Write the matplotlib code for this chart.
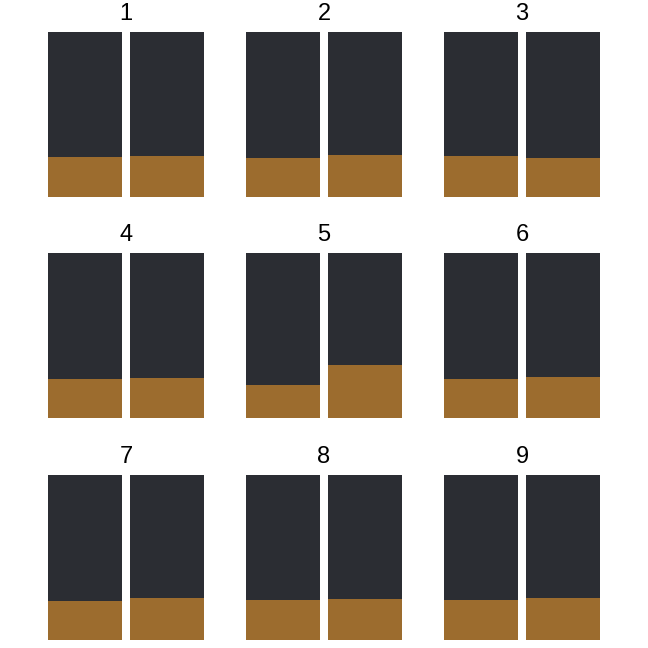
import matplotlib
matplotlib.use("Agg")
import matplotlib.pyplot as plt

plt.rcParams['font.family'] = ['Liberation Sans', 'DejaVu Sans']

panels = ["1", "2", "3", "4", "5", "6", "7", "8", "9"]
bottom_share_a = [0.242, 0.236, 0.248, 0.236, 0.200, 0.236, 0.236, 0.242, 0.242]
bottom_share_b = [0.248, 0.255, 0.236, 0.242, 0.320, 0.248, 0.255, 0.248, 0.255]

brown = "#9c6c2e"
dark = "#2b2d33"

W = H = 648
fig = plt.figure(figsize=(6.48, 6.48), dpi=100)

col_left = [48, 246, 444]
row_top = [32, 253, 475]
pw, ph = 156, 165
bw = 74 / 82

for i, name in enumerate(panels):
    r, c = divmod(i, 3)
    ax = fig.add_axes([col_left[c] / W, (H - row_top[r] - ph) / H, pw / W, ph / H])
    vals = [bottom_share_a[i], bottom_share_b[i]]
    xs = [0, 1]
    ax.bar(xs, vals, width=bw, color=brown, linewidth=0)
    ax.bar(xs, [1 - v for v in vals], bottom=vals, width=bw, color=dark, linewidth=0)
    ax.set_xlim(-bw / 2, 1 + bw / 2)
    ax.set_ylim(0, 1)
    ax.axis("off")
    ax.set_title(name, fontsize=17, pad=8.5)

fig.savefig("out.png", dpi=100)
